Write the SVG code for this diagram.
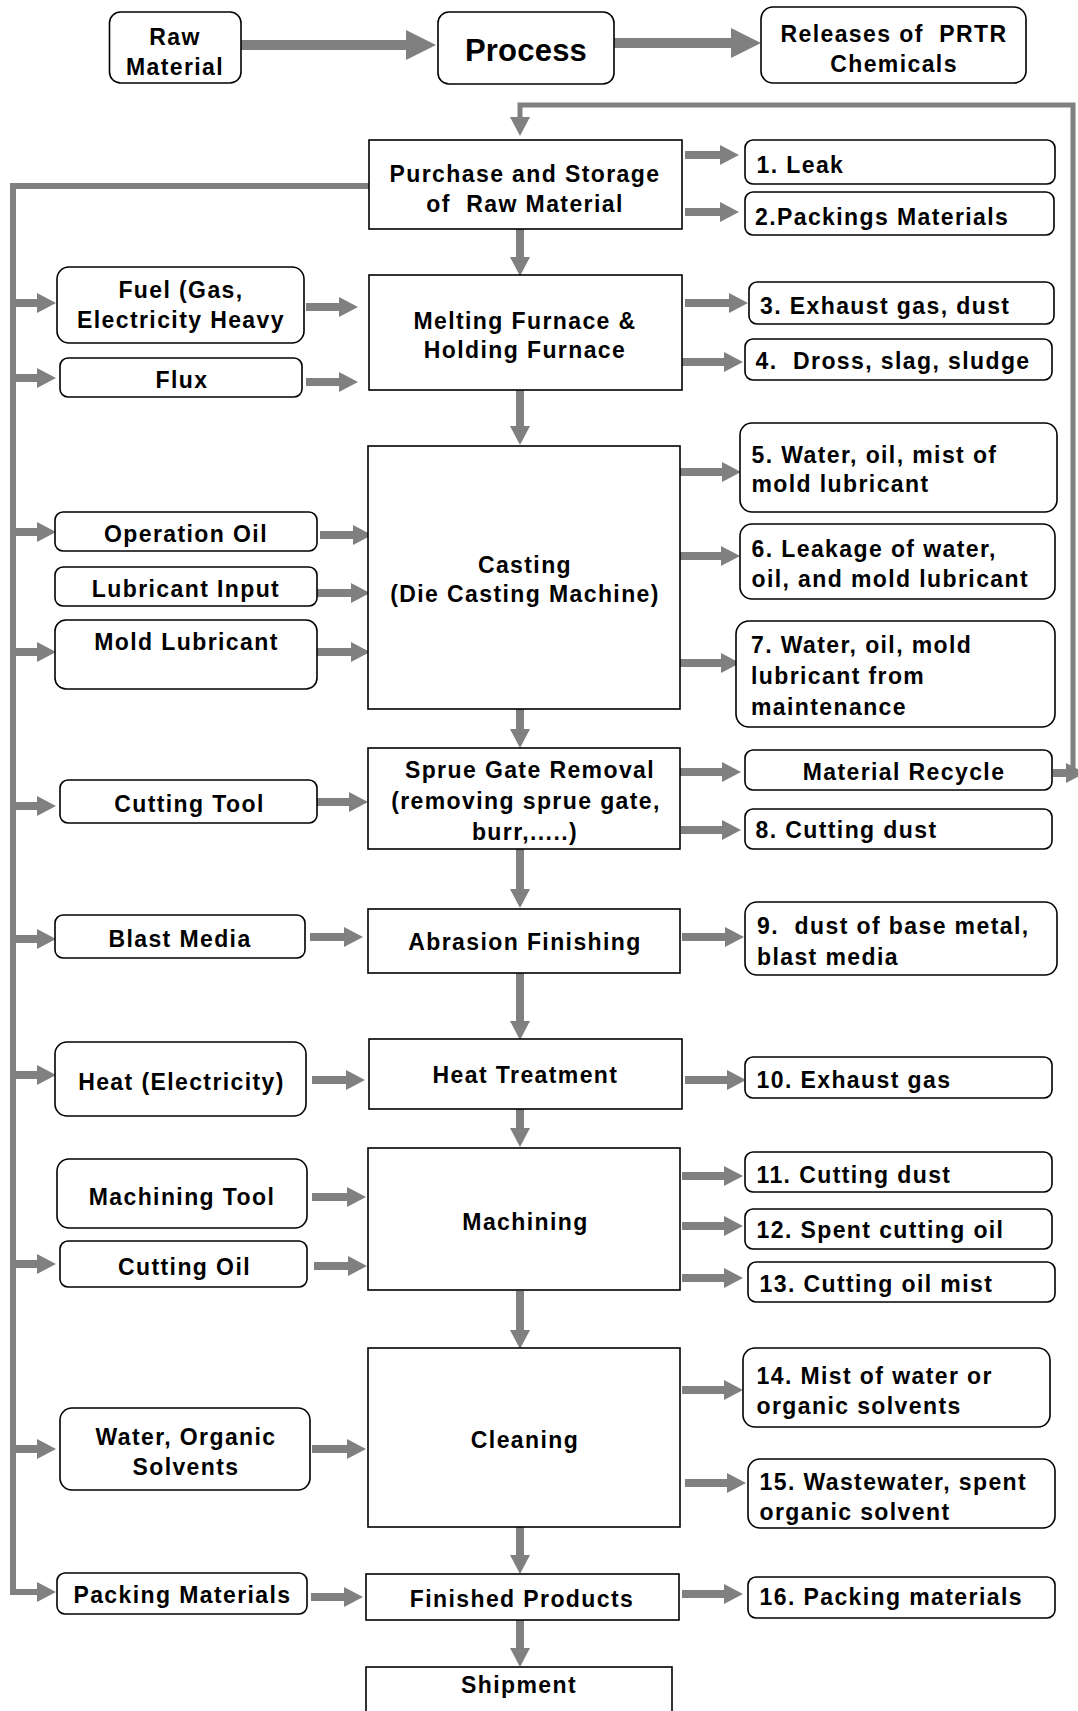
<svg xmlns="http://www.w3.org/2000/svg" width="1078" height="1711" viewBox="0 0 1078 1711">
  <style>
    .box { fill: #ffffff; stroke: #000000; stroke-width: 1.6; }
    .t { font-family: "Liberation Sans", Arial, sans-serif; font-weight: bold; font-size: 23px; letter-spacing: 1.4px; fill: #000000; white-space: pre; }
    .m { text-anchor: middle; }
    .big { font-size: 31px; letter-spacing: 0.2px; }
    .flow { fill: none; stroke: #808080; stroke-width: 8; }
    .wide { fill: none; stroke: #808080; stroke-width: 10; }
    .trunk { fill: none; stroke: #808080; stroke-width: 6; stroke-linejoin: miter; }
    .loop { fill: none; stroke: #808080; stroke-width: 5; stroke-linejoin: miter; }
  </style>
  <defs>
    <marker id="head" markerUnits="userSpaceOnUse" markerWidth="20" markerHeight="20" refX="0" refY="10" orient="auto" overflow="visible">
      <path d="M0,0 L19,10 L0,20 Z" fill="#808080"/>
    </marker>
    <marker id="headBig" markerUnits="userSpaceOnUse" markerWidth="30" markerHeight="30" refX="0" refY="15" orient="auto" overflow="visible">
      <path d="M0,0 L30,15 L0,30 Z" fill="#808080"/>
    </marker>
  </defs>
  <rect width="1078" height="1711" fill="#ffffff"/>

  <!-- connectors -->
  <g id="connectors">
    <!-- legend arrows -->
    <line class="wide" x1="241" y1="45" x2="406" y2="45" marker-end="url(#headBig)"/>
    <line class="wide" x1="614" y1="43" x2="731" y2="43" marker-end="url(#headBig)"/>

    <!-- recycle loop back to purchase -->
    <polyline class="loop" points="1073,773 1073,105 520,105 520,117" marker-end="url(#head)"/>
    <line class="flow" x1="1053" y1="773" x2="1066" y2="773" marker-end="url(#head)"/>

    <!-- main trunk feeding the input boxes -->
    <polyline class="trunk" points="369,186 13,186 13,1592 37,1592" marker-end="url(#head)"/>
    <line class="flow" x1="13" y1="303" x2="37" y2="303" marker-end="url(#head)"/>
    <line class="flow" x1="13" y1="378" x2="37" y2="378" marker-end="url(#head)"/>
    <line class="flow" x1="13" y1="532" x2="37" y2="532" marker-end="url(#head)"/>
    <line class="flow" x1="13" y1="652" x2="37" y2="652" marker-end="url(#head)"/>
    <line class="flow" x1="13" y1="806" x2="37" y2="806" marker-end="url(#head)"/>
    <line class="flow" x1="13" y1="939" x2="37" y2="939" marker-end="url(#head)"/>
    <line class="flow" x1="13" y1="1075" x2="37" y2="1075" marker-end="url(#head)"/>
    <line class="flow" x1="13" y1="1264" x2="37" y2="1264" marker-end="url(#head)"/>
    <line class="flow" x1="13" y1="1449" x2="37" y2="1449" marker-end="url(#head)"/>

    <!-- process chain -->
    <line class="flow" x1="520" y1="229" x2="520" y2="257" marker-end="url(#head)"/>
    <line class="flow" x1="520" y1="390" x2="520" y2="426" marker-end="url(#head)"/>
    <line class="flow" x1="520" y1="709" x2="520" y2="729" marker-end="url(#head)"/>
    <line class="flow" x1="520" y1="849" x2="520" y2="889" marker-end="url(#head)"/>
    <line class="flow" x1="520" y1="973" x2="520" y2="1021" marker-end="url(#head)"/>
    <line class="flow" x1="520" y1="1109" x2="520" y2="1128" marker-end="url(#head)"/>
    <line class="flow" x1="520" y1="1291" x2="520" y2="1330" marker-end="url(#head)"/>
    <line class="flow" x1="520" y1="1527" x2="520" y2="1555" marker-end="url(#head)"/>
    <line class="flow" x1="520" y1="1620" x2="520" y2="1648" marker-end="url(#head)"/>

    <!-- inputs into processes -->
    <line class="flow" x1="306" y1="307" x2="339" y2="307" marker-end="url(#head)"/>
    <line class="flow" x1="306" y1="382" x2="339" y2="382" marker-end="url(#head)"/>
    <line class="flow" x1="320" y1="535" x2="353" y2="535" marker-end="url(#head)"/>
    <line class="flow" x1="317" y1="593" x2="351" y2="593" marker-end="url(#head)"/>
    <line class="flow" x1="317" y1="652" x2="351" y2="652" marker-end="url(#head)"/>
    <line class="flow" x1="317" y1="802" x2="349" y2="802" marker-end="url(#head)"/>
    <line class="flow" x1="310" y1="937" x2="344" y2="937" marker-end="url(#head)"/>
    <line class="flow" x1="312" y1="1080" x2="346" y2="1080" marker-end="url(#head)"/>
    <line class="flow" x1="312" y1="1197" x2="347" y2="1197" marker-end="url(#head)"/>
    <line class="flow" x1="314" y1="1266" x2="348" y2="1266" marker-end="url(#head)"/>
    <line class="flow" x1="312" y1="1449" x2="347" y2="1449" marker-end="url(#head)"/>
    <line class="flow" x1="311" y1="1597" x2="344" y2="1597" marker-end="url(#head)"/>

    <!-- releases out of processes -->
    <line class="flow" x1="685" y1="155" x2="720" y2="155" marker-end="url(#head)"/>
    <line class="flow" x1="685" y1="212" x2="720" y2="212" marker-end="url(#head)"/>
    <line class="flow" x1="685" y1="303" x2="729" y2="303" marker-end="url(#head)"/>
    <line class="flow" x1="682" y1="362" x2="724" y2="362" marker-end="url(#head)"/>
    <line class="flow" x1="680" y1="472" x2="722" y2="472" marker-end="url(#head)"/>
    <line class="flow" x1="680" y1="556" x2="721" y2="556" marker-end="url(#head)"/>
    <line class="flow" x1="680" y1="663" x2="721" y2="663" marker-end="url(#head)"/>
    <line class="flow" x1="680" y1="772" x2="722" y2="772" marker-end="url(#head)"/>
    <line class="flow" x1="681" y1="830" x2="722" y2="830" marker-end="url(#head)"/>
    <line class="flow" x1="682" y1="937" x2="725" y2="937" marker-end="url(#head)"/>
    <line class="flow" x1="685" y1="1080" x2="727" y2="1080" marker-end="url(#head)"/>
    <line class="flow" x1="682" y1="1176" x2="724" y2="1176" marker-end="url(#head)"/>
    <line class="flow" x1="682" y1="1226" x2="724" y2="1226" marker-end="url(#head)"/>
    <line class="flow" x1="682" y1="1278" x2="724" y2="1278" marker-end="url(#head)"/>
    <line class="flow" x1="682" y1="1390" x2="724" y2="1390" marker-end="url(#head)"/>
    <line class="flow" x1="685" y1="1483" x2="727" y2="1483" marker-end="url(#head)"/>
    <line class="flow" x1="682" y1="1594" x2="724" y2="1594" marker-end="url(#head)"/>
  </g>

  <!-- legend -->
  <g id="legend-raw"><rect class="box" x="109.5" y="12" width="131.5" height="71" rx="11"/>
    <text class="t m" x="175" y="45">Raw</text><text class="t m" x="175" y="75">Material</text></g>
  <g id="legend-process"><rect class="box" x="438" y="12" width="176" height="72" rx="11"/>
    <text class="t big m" x="526" y="61">Process</text></g>
  <g id="legend-releases"><rect class="box" x="761" y="7" width="265" height="76" rx="12"/>
    <text class="t m" x="894" y="41.5">Releases of  PRTR</text><text class="t m" x="894" y="71.5">Chemicals</text></g>

  <!-- process steps -->
  <g id="purchase"><rect class="box" x="369" y="140" width="313" height="89"/>
    <text class="t m" x="525" y="181.5">Purchase and Storage</text><text class="t m" x="525" y="211.5">of  Raw Material</text></g>
  <g id="melting"><rect class="box" x="369" y="275" width="313" height="115"/>
    <text class="t m" x="525" y="329">Melting Furnace &amp;</text><text class="t m" x="525" y="358">Holding Furnace</text></g>
  <g id="casting"><rect class="box" x="368" y="446" width="312" height="263"/>
    <text class="t m" x="525" y="573">Casting</text><text class="t m" x="525" y="602">(Die Casting Machine)</text></g>
  <g id="sprue"><rect class="box" x="368" y="748" width="312" height="101"/>
    <text class="t m" x="530" y="778">Sprue Gate Removal</text><text class="t m" x="526" y="809">(removing sprue gate,</text><text class="t m" x="525" y="839.5">burr,.....)</text></g>
  <g id="abrasion"><rect class="box" x="368" y="909" width="312" height="64"/>
    <text class="t m" x="525" y="950">Abrasion Finishing</text></g>
  <g id="heat-treatment"><rect class="box" x="369" y="1039" width="313" height="70"/>
    <text class="t m" x="525.5" y="1083">Heat Treatment</text></g>
  <g id="machining"><rect class="box" x="368" y="1148" width="312" height="142"/>
    <text class="t m" x="525.5" y="1229.5">Machining</text></g>
  <g id="cleaning"><rect class="box" x="368" y="1348" width="312" height="179"/>
    <text class="t m" x="525" y="1448">Cleaning</text></g>
  <g id="finished"><rect class="box" x="366" y="1574" width="313" height="46"/>
    <text class="t m" x="522" y="1606.5">Finished Products</text></g>
  <g id="shipment"><rect class="box" x="366" y="1667" width="306" height="60"/>
    <text class="t m" x="519" y="1693">Shipment</text></g>

  <!-- inputs -->
  <g id="in-fuel"><rect class="box" x="57" y="267" width="247" height="76" rx="12"/>
    <text class="t m" x="181" y="298">Fuel (Gas,</text><text class="t m" x="181" y="328">Electricity Heavy</text></g>
  <g id="in-flux"><rect class="box" x="60" y="358" width="242" height="39" rx="8"/>
    <text class="t m" x="182" y="387.5">Flux</text></g>
  <g id="in-operation-oil"><rect class="box" x="55" y="512" width="262" height="39" rx="8"/>
    <text class="t m" x="186" y="541.5">Operation Oil</text></g>
  <g id="in-lubricant-input"><rect class="box" x="55" y="567" width="262" height="39" rx="8"/>
    <text class="t m" x="186" y="597">Lubricant Input</text></g>
  <g id="in-mold-lubricant"><rect class="box" x="55" y="620" width="262" height="69" rx="11"/>
    <text class="t m" x="186.5" y="650">Mold Lubricant</text></g>
  <g id="in-cutting-tool"><rect class="box" x="60" y="780" width="257" height="43" rx="8"/>
    <text class="t m" x="189.5" y="811.5">Cutting Tool</text></g>
  <g id="in-blast-media"><rect class="box" x="55" y="915" width="250" height="43" rx="8"/>
    <text class="t m" x="180" y="946.5">Blast Media</text></g>
  <g id="in-heat"><rect class="box" x="55" y="1042" width="251" height="74" rx="12"/>
    <text class="t m" x="181.5" y="1089.5">Heat (Electricity)</text></g>
  <g id="in-machining-tool"><rect class="box" x="57" y="1159" width="250" height="69" rx="12"/>
    <text class="t m" x="182" y="1204.5">Machining Tool</text></g>
  <g id="in-cutting-oil"><rect class="box" x="60" y="1241" width="247" height="46" rx="8"/>
    <text class="t m" x="184.5" y="1274.5">Cutting Oil</text></g>
  <g id="in-water"><rect class="box" x="60" y="1408" width="250" height="82" rx="12"/>
    <text class="t m" x="186" y="1444.5">Water, Organic</text><text class="t m" x="186" y="1474.5">Solvents</text></g>
  <g id="in-packing"><rect class="box" x="57" y="1573" width="250" height="41" rx="8"/>
    <text class="t m" x="182.5" y="1603">Packing Materials</text></g>

  <!-- releases -->
  <g id="out-1"><rect class="box" x="745" y="140" width="310" height="44" rx="8"/>
    <text class="t" x="756.5" y="173">1. Leak</text></g>
  <g id="out-2"><rect class="box" x="745" y="192" width="309" height="43" rx="8"/>
    <text class="t" x="755" y="225">2.Packings Materials</text></g>
  <g id="out-3"><rect class="box" x="749" y="282" width="305" height="42" rx="8"/>
    <text class="t" x="760" y="313.5">3. Exhaust gas, dust</text></g>
  <g id="out-4"><rect class="box" x="745" y="339" width="307" height="41" rx="8"/>
    <text class="t" x="755.5" y="369">4.  Dross, slag, sludge</text></g>
  <g id="out-5"><rect class="box" x="740" y="423" width="317" height="89" rx="12"/>
    <text class="t" x="751.5" y="463">5. Water, oil, mist of</text><text class="t" x="751.5" y="491.5">mold lubricant</text></g>
  <g id="out-6"><rect class="box" x="740" y="524" width="315" height="75" rx="12"/>
    <text class="t" x="751.5" y="557">6. Leakage of water,</text><text class="t" x="751.5" y="586.5">oil, and mold lubricant</text></g>
  <g id="out-7"><rect class="box" x="736" y="621" width="319" height="106" rx="13"/>
    <text class="t" x="751" y="653">7. Water, oil, mold</text><text class="t" x="751" y="683.5">lubricant from</text><text class="t" x="751" y="714.5">maintenance</text></g>
  <g id="out-recycle"><rect class="box" x="745" y="750" width="307" height="40" rx="8"/>
    <text class="t m" x="904" y="779.5">Material Recycle</text></g>
  <g id="out-8"><rect class="box" x="745" y="809" width="307" height="40" rx="8"/>
    <text class="t" x="755.5" y="838">8. Cutting dust</text></g>
  <g id="out-9"><rect class="box" x="745" y="902" width="312" height="73" rx="12"/>
    <text class="t" x="757" y="934">9.  dust of base metal,</text><text class="t" x="757" y="964.5">blast media</text></g>
  <g id="out-10"><rect class="box" x="745" y="1057" width="307" height="41" rx="8"/>
    <text class="t" x="756.5" y="1087.5">10. Exhaust gas</text></g>
  <g id="out-11"><rect class="box" x="745" y="1152" width="307" height="40" rx="8"/>
    <text class="t" x="756.5" y="1182.5">11. Cutting dust</text></g>
  <g id="out-12"><rect class="box" x="745" y="1209" width="307" height="40" rx="8"/>
    <text class="t" x="756.5" y="1238">12. Spent cutting oil</text></g>
  <g id="out-13"><rect class="box" x="748" y="1262" width="307" height="40" rx="8"/>
    <text class="t" x="759.5" y="1292">13. Cutting oil mist</text></g>
  <g id="out-14"><rect class="box" x="743" y="1348" width="307" height="79" rx="12"/>
    <text class="t" x="756.5" y="1384">14. Mist of water or</text><text class="t" x="756.5" y="1414">organic solvents</text></g>
  <g id="out-15"><rect class="box" x="748" y="1459" width="307" height="69" rx="12"/>
    <text class="t" x="759.5" y="1489.5">15. Wastewater, spent</text><text class="t" x="759.5" y="1520">organic solvent</text></g>
  <g id="out-16"><rect class="box" x="748" y="1577" width="307" height="41" rx="8"/>
    <text class="t" x="759.5" y="1605">16. Packing materials</text></g>
</svg>
